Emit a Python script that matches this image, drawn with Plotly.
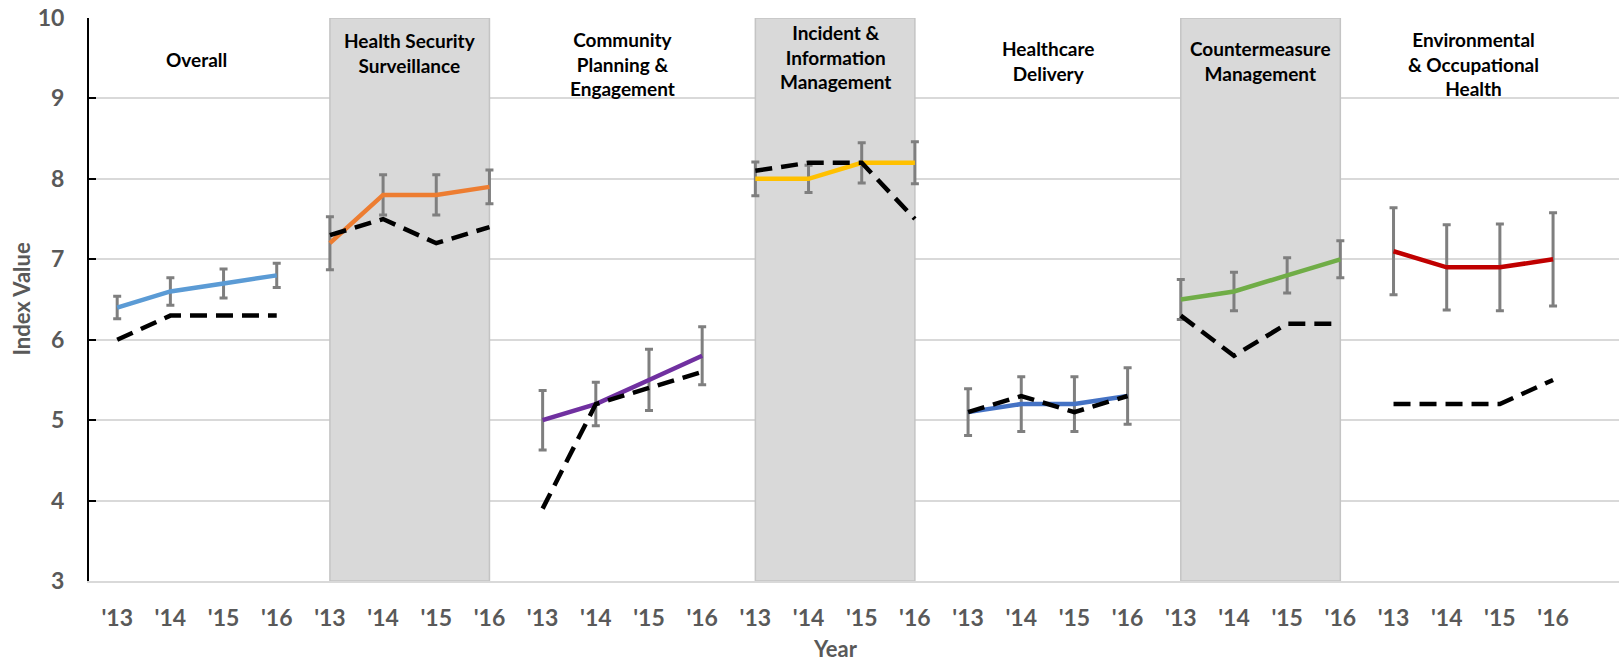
import plotly.graph_objects as go

# ---- data ----
categories = ["Overall", "Health Security<br>Surveillance", "Community<br>Planning &<br>Engagement",
              "Incident &<br>Information<br>Management", "Healthcare<br>Delivery",
              "Countermeasure<br>Management", "Environmental<br>& Occupational<br>Health"]
years = ["'13", "'14", "'15", "'16"]

overall = [6.4, 6.6, 6.7, 6.8]
health_security = [7.2, 7.8, 7.8, 7.9]
community = [5.0, 5.2, 5.5, 5.8]
incident = [8.0, 8.0, 8.2, 8.2]
healthcare = [5.1, 5.2, 5.2, 5.3]
countermeasure = [6.5, 6.6, 6.8, 7.0]
environmental = [7.1, 6.9, 6.9, 7.0]
values = [overall, health_security, community, incident, healthcare, countermeasure, environmental]

overall_err = [0.14, 0.17, 0.18, 0.15]
health_security_err = [0.33, 0.25, 0.25, 0.21]
community_err = [0.37, 0.27, 0.38, 0.36]
incident_err = [0.21, 0.17, 0.25, 0.26]
healthcare_err = [0.29, 0.34, 0.34, 0.35]
countermeasure_err = [0.25, 0.24, 0.22, 0.23]
environmental_err = [0.54, 0.53, 0.54, 0.58]
errors = [overall_err, health_security_err, community_err, incident_err,
          healthcare_err, countermeasure_err, environmental_err]

overall_ref = [6.0, 6.3, 6.3, 6.3]
health_security_ref = [7.3, 7.5, 7.2, 7.4]
community_ref = [3.9, 5.2, 5.4, 5.6]
incident_ref = [8.1, 8.2, 8.2, 7.5]
healthcare_ref = [5.1, 5.3, 5.1, 5.3]
countermeasure_ref = [6.3, 5.8, 6.2, 6.2]
environmental_ref = [5.2, 5.2, 5.2, 5.5]
references = [overall_ref, health_security_ref, community_ref, incident_ref,
              healthcare_ref, countermeasure_ref, environmental_ref]

y_ticks = [3, 4, 5, 6, 7, 8, 9, 10]

# ---- style ----
colors = ["#5B9BD5", "#ED7D31", "#7030A0", "#FFC000", "#4472C4", "#70AD47", "#C00000"]
shaded = [1, 3, 5]
title_y = [9.478, 9.571, 9.422, 9.509, 9.465, 9.465, 9.422]
FONT = "Lato"
GREY = "#595959"

fig = go.Figure()
n = len(years)

for g in range(len(categories)):
    xs = [g * n + i for i in range(n)]
    fig.add_trace(go.Scatter(
        x=xs, y=values[g], mode="lines",
        line=dict(color=colors[g], width=4.5),
        error_y=dict(type="data", array=errors[g], visible=True,
                     color="#7F7F7F", thickness=3, width=4),
        showlegend=False, hoverinfo="skip"))
    fig.add_trace(go.Scatter(
        x=xs, y=references[g], mode="lines",
        line=dict(color="black", width=4.5, dash="17px,9px"),
        showlegend=False, hoverinfo="skip"))
    if g in shaded:
        fig.add_shape(type="rect", xref="x", yref="y",
                      x0=xs[0], x1=xs[-1], y0=y_ticks[0], y1=y_ticks[-1],
                      fillcolor="#D9D9D9", line=dict(color="#C4C4C4", width=1.5),
                      layer="between")
    fig.add_annotation(x=g * n + (n - 1) / 2, y=title_y[g], xref="x", yref="y",
                       text=categories[g], showarrow=False,
                       font=dict(family=FONT, size=19, color="black", weight="bold"),
                       align="center", yanchor="middle")

tickvals = [g * n + i for g in range(len(categories)) for i in range(n)]
ticktext = [years[i] for g in range(len(categories)) for i in range(n)]

fig.update_layout(
    width=1619, height=664,
    margin=dict(l=89, r=0, t=18, b=83),
    paper_bgcolor="white", plot_bgcolor="white",
    xaxis=dict(range=[-0.53, 28.24], tickvals=tickvals, ticktext=ticktext,
               showgrid=False, zeroline=False, showline=True, linecolor="#D9D9D9", linewidth=2,
               ticks="", ticklabelstandoff=15,
               tickfont=dict(family=FONT, size=23, color=GREY, weight="bold")),
    yaxis=dict(range=[3, 10], tickvals=y_ticks, showgrid=True, gridcolor="#D9D9D9", gridwidth=1.5,
               zeroline=False, showline=True, linecolor="black", linewidth=2,
               ticks="inside", ticklen=7, tickwidth=2, tickcolor="black",
               ticklabelstandoff=18,
               tickfont=dict(family=FONT, size=23, color=GREY, weight="bold")),
)

fig.add_annotation(x=0, y=0.5, xref="paper", yref="paper", xanchor="center", yanchor="middle",
                   xshift=-68, text="Index Value", textangle=-90, showarrow=False,
                   font=dict(family=FONT, size=22, color=GREY, weight="bold"))
fig.add_annotation(x=(tickvals[0] + tickvals[-1]) / 2, y=0, xref="x", yref="paper",
                   xanchor="center", yanchor="bottom", yshift=-83,
                   text="Year", showarrow=False,
                   font=dict(family=FONT, size=22, color=GREY, weight="bold"))

fig.write_html("out.html", config={"displayModeBar": False},
               post_script="document.body.style.margin='0';document.body.style.overflow='hidden';")
